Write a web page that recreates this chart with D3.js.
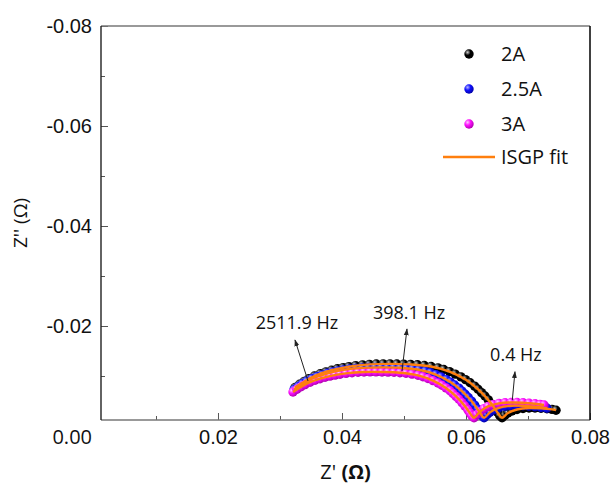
<!DOCTYPE html>
<html>
<head>
<meta charset="utf-8">
<script src="https://cdn.jsdelivr.net/npm/d3@7"></script>
<style>
  body { margin: 0; background: #fff; }
  svg { font-family: "Open Sans", "Noto Sans", sans-serif; }
</style>
</head>
<body>
<svg width="612" height="484"></svg>
<script>
// Nyquist data, Z' (ohm) and Z'' (ohm)
const s2A_re = [0.03242,0.03316,0.0339,0.03463,0.03555,0.03648,0.0374,0.03832,0.03924,0.04016,0.0411,0.04219,0.04331,0.04442,0.04552,0.04663,0.04774,0.04884,0.04995,0.05105,0.05216,0.05327,0.05437,0.05548,0.0564,0.05734,0.05826,0.05918,0.05992,0.06066,0.06139,0.06194,0.0625,0.06305,0.0636,0.06416,0.06471,0.06508,0.06545,0.06582,0.06629,0.06677,0.06742,0.06823,0.06919,0.07016,0.07113,0.0721,0.07306,0.07387,0.07452];
const s2A_im = [-0.0077,-0.00834,-0.00892,-0.00944,-0.01,-0.01046,-0.01082,-0.01116,-0.01144,-0.01168,-0.01188,-0.01208,-0.01222,-0.01232,-0.0124,-0.01242,-0.01242,-0.0124,-0.01238,-0.01232,-0.01224,-0.0121,-0.0119,-0.01162,-0.0113,-0.01088,-0.01038,-0.00982,-0.00928,-0.00866,-0.00798,-0.00736,-0.00668,-0.006,-0.00522,-0.00436,-0.00348,-0.00278,-0.00206,-0.00164,-0.00214,-0.0026,-0.003,-0.0033,-0.0035,-0.0036,-0.0036,-0.00354,-0.00344,-0.00332,-0.00316];

const s25A_re = [0.03226,0.03294,0.03361,0.03429,0.03515,0.03598,0.03684,0.03768,0.03853,0.03937,0.04023,0.04124,0.04224,0.04326,0.04427,0.04531,0.04632,0.04734,0.04835,0.04937,0.05039,0.0514,0.0524,0.05342,0.05427,0.05513,0.05597,0.05681,0.05748,0.05816,0.05885,0.05935,0.05987,0.06037,0.06089,0.06139,0.0619,0.06224,0.06258,0.06292,0.06339,0.06387,0.06452,0.06532,0.06629,0.06726,0.06823,0.06919,0.07016,0.07113,0.0721,0.07306];
const s25A_im = [-0.0073,-0.0079,-0.00846,-0.00894,-0.00946,-0.00988,-0.01022,-0.01054,-0.0108,-0.01102,-0.01122,-0.0114,-0.01152,-0.01162,-0.0117,-0.01172,-0.01172,-0.0117,-0.01168,-0.01164,-0.01154,-0.01142,-0.01124,-0.01098,-0.01066,-0.01028,-0.00982,-0.00928,-0.00878,-0.0082,-0.00758,-0.00698,-0.00634,-0.0057,-0.00498,-0.00418,-0.00336,-0.0027,-0.00204,-0.00164,-0.00224,-0.00276,-0.00324,-0.00364,-0.0039,-0.00404,-0.00408,-0.00404,-0.00396,-0.00384,-0.0037,-0.00354];

const s3A_re = [0.0321,0.03274,0.03339,0.03403,0.03484,0.03565,0.03645,0.03726,0.03806,0.03887,0.03968,0.04065,0.04161,0.04258,0.04355,0.04452,0.04548,0.04645,0.04742,0.04839,0.04935,0.05032,0.05129,0.05226,0.05306,0.05387,0.05468,0.05548,0.05613,0.05677,0.05742,0.0579,0.05839,0.05887,0.05935,0.05984,0.06032,0.06065,0.06097,0.06129,0.06177,0.06226,0.0629,0.06355,0.06435,0.06532,0.06629,0.06726,0.06823,0.06919,0.07016,0.07113,0.07194,0.07258];
const s3A_im = [-0.0068,-0.00734,-0.00784,-0.00828,-0.00876,-0.00914,-0.00946,-0.00974,-0.00998,-0.01018,-0.01036,-0.01052,-0.01064,-0.01074,-0.0108,-0.01082,-0.01082,-0.0108,-0.01078,-0.01074,-0.01066,-0.01054,-0.01038,-0.01014,-0.00986,-0.0095,-0.00908,-0.0086,-0.00814,-0.00762,-0.00704,-0.0065,-0.00592,-0.00534,-0.00468,-0.00396,-0.0032,-0.0026,-0.002,-0.00164,-0.0023,-0.00286,-0.00348,-0.00392,-0.00428,-0.00452,-0.00464,-0.0047,-0.0047,-0.00464,-0.00456,-0.00444,-0.00432,-0.0042];

// ISGP fit curves
const fit2A_re = [0.03242,0.03555,0.03832,0.0411,0.04442,0.04774,0.05105,0.05437,0.05734,0.05992,0.0625,0.06416,0.06545,0.06582,0.06677,0.06823,0.07016,0.0721,0.07387,0.07452];
const fit2A_im = [-0.0077,-0.01,-0.01116,-0.01188,-0.01232,-0.01242,-0.01232,-0.0119,-0.01088,-0.00928,-0.00668,-0.00436,-0.00206,-0.00164,-0.0026,-0.0033,-0.0036,-0.00354,-0.00332,-0.00316];
const fit25A_re = [0.03226,0.03515,0.03768,0.04023,0.04326,0.04632,0.04937,0.0524,0.05513,0.05748,0.05935,0.06089,0.06224,0.06292,0.06387,0.06532,0.06726,0.06919,0.07113,0.07306];
const fit25A_im = [-0.0073,-0.00946,-0.01054,-0.01122,-0.01162,-0.01172,-0.01164,-0.01124,-0.01028,-0.00878,-0.00698,-0.00498,-0.0027,-0.00164,-0.00276,-0.00364,-0.00404,-0.00404,-0.00384,-0.00354];
const fit3A_re = [0.0321,0.03484,0.03806,0.04065,0.04355,0.04645,0.04935,0.05226,0.05468,0.05677,0.05839,0.05984,0.06097,0.06129,0.06226,0.06355,0.06532,0.06726,0.06919,0.07113,0.07258];
const fit3A_im = [-0.0068,-0.00876,-0.00998,-0.01052,-0.0108,-0.0108,-0.01066,-0.01014,-0.00908,-0.00762,-0.00592,-0.00396,-0.002,-0.00164,-0.00286,-0.00392,-0.00452,-0.0047,-0.00464,-0.00444,-0.0042];

const seriesNames = ["2A", "2.5A", "3A"];
const seriesColors = [["#d0d0d0", "#000000", "#000000"], ["#b8b8ff", "#1010ff", "#0000a8"], ["#ffc8ff", "#ff10ff", "#b000b0"]];
const fitName = "ISGP fit";
const fitColor = "#ff7f0e";

const xTicks = [0.02, 0.04, 0.06, 0.08];
const xMinor = [0.01, 0.03, 0.05, 0.07];
const yTicks = [-0.02, -0.04, -0.06, -0.08];
const yMinor = [-0.01, -0.03, -0.05, -0.07];
const zeroLabel = "0.00";

// frequency labels: [text, arrow start, arrow tip, label position]
const annotations = [
  ["2511.9 Hz", [0.03452, -0.0090], [0.03242, -0.0172], [0.03274, -0.0194]],
  ["398.1 Hz", [0.04968, -0.0110], [0.05048, -0.0194], [0.05081, -0.0214]],
  ["0.4 Hz", [0.06747, -0.0052], [0.0679, -0.01086], [0.06806, -0.0130]]
];

const svg = d3.select("svg");
const margin = ({top: 26, right: 22, bottom: 64, left: 101});
const width = 612;
const height = 484;
const dotR = 4.7;

const x = d3.scaleLinear()
    .domain([0.00113, 0.08])
    .range([margin.left, width - margin.right]);
const y = d3.scaleLinear()
    .domain([-0.0012, -0.08])
    .range([height - margin.bottom, margin.top]);

const series = [
  d3.zip(s2A_re, s2A_im),
  d3.zip(s25A_re, s25A_im),
  d3.zip(s3A_re, s3A_im)
];
const fits = [
  d3.zip(fit2A_re, fit2A_im),
  d3.zip(fit25A_re, fit25A_im),
  d3.zip(fit3A_re, fit3A_im)
];

const fmt = d => d.toFixed(2);

// sphere-looking symbols
const defs = svg.append("defs");
seriesColors.forEach((c, i) => {
  const g = defs.append("radialGradient")
      .attr("id", "ball" + i)
      .attr("cx", "35%").attr("cy", "32%").attr("r", "70%");
  g.append("stop").attr("offset", "0%").attr("stop-color", c[0]);
  g.append("stop").attr("offset", "45%").attr("stop-color", c[1]);
  g.append("stop").attr("offset", "100%").attr("stop-color", c[2]);
});
defs.append("marker")
    .attr("id", "arrow")
    .attr("viewBox", "0 0 10 10")
    .attr("refX", 9).attr("refY", 5)
    .attr("markerWidth", 7).attr("markerHeight", 7)
    .attr("orient", "auto")
  .append("path")
    .attr("d", "M0,1.5L10,5L0,8.5Z")
    .attr("fill", "#222");

// minor ticks
svg.append("g")
    .attr("transform", `translate(0,${height - margin.bottom})`)
    .call(d3.axisBottom(x).tickValues(xMinor).tickSize(-4).tickFormat(""))
    .call(g => g.select(".domain").remove())
    .call(g => g.selectAll("line").attr("stroke", "#555"));
svg.append("g")
    .attr("transform", `translate(${margin.left},0)`)
    .call(d3.axisLeft(y).tickValues(yMinor).tickSize(-4).tickFormat(""))
    .call(g => g.select(".domain").remove())
    .call(g => g.selectAll("line").attr("stroke", "#555"));

// major ticks + labels
svg.append("g")
    .attr("transform", `translate(0,${height - margin.bottom})`)
    .call(d3.axisBottom(x).tickValues(xTicks).tickSize(-7).tickPadding(10).tickFormat(fmt))
    .call(g => g.select(".domain").remove())
    .call(g => g.selectAll("line").attr("stroke", "#555"))
    .call(g => g.selectAll("text").attr("font-size", 20).attr("fill", "#111").attr("font-family", null));
svg.append("g")
    .attr("transform", `translate(${margin.left},0)`)
    .call(d3.axisLeft(y).tickValues(yTicks).tickSize(-7).tickPadding(9).tickFormat(fmt))
    .call(g => g.select(".domain").remove())
    .call(g => g.selectAll("line").attr("stroke", "#555"))
    .call(g => g.selectAll("text").attr("font-size", 20).attr("fill", "#111").attr("font-family", null));

// shared corner label
svg.append("text")
    .attr("x", margin.left - 9)
    .attr("y", height - margin.bottom + 24)
    .attr("text-anchor", "end")
    .attr("font-size", 20)
    .attr("fill", "#111")
    .text(zeroLabel);

// frame
const fx0 = margin.left, fx1 = width - margin.right, fy0 = margin.top, fy1 = height - margin.bottom;
svg.append("line").attr("x1", fx0).attr("x2", fx1).attr("y1", fy0).attr("y2", fy0)
    .attr("stroke", "#777").attr("stroke-width", 1.6);
svg.append("line").attr("x1", fx0).attr("x2", fx1).attr("y1", fy1).attr("y2", fy1)
    .attr("stroke", "#777").attr("stroke-width", 1.6);
svg.append("line").attr("x1", fx0).attr("x2", fx0).attr("y1", fy0).attr("y2", fy1)
    .attr("stroke", "#222").attr("stroke-width", 1.4);
svg.append("line").attr("x1", fx1).attr("x2", fx1).attr("y1", fy0).attr("y2", fy1)
    .attr("stroke", "#111").attr("stroke-width", 1.6);

// data points
svg.append("g")
  .selectAll("g")
  .data(series)
  .join("g")
    .attr("fill", (d, i) => `url(#ball${i})`)
  .selectAll("circle")
  .data(d => d)
  .join("circle")
    .attr("cx", d => x(d[0]))
    .attr("cy", d => y(d[1]))
    .attr("r", dotR);

// fits
const line = d3.line()
    .x(d => x(d[0]))
    .y(d => y(d[1]))
    .curve(d3.curveCatmullRom.alpha(0.5));
svg.append("g")
  .selectAll("path")
  .data(fits)
  .join("path")
    .attr("d", line)
    .attr("fill", "none")
    .attr("stroke", fitColor)
    .attr("stroke-width", 2.4)
    .attr("stroke-linejoin", "round");

// frequency annotations
const ann = svg.append("g");
annotations.forEach(([label, from, to, pos]) => {
  ann.append("line")
      .attr("x1", x(from[0])).attr("y1", y(from[1]))
      .attr("x2", x(to[0])).attr("y2", y(to[1]))
      .attr("stroke", "#222")
      .attr("stroke-width", 1)
      .attr("marker-end", "url(#arrow)");
  ann.append("text")
      .attr("x", x(pos[0]))
      .attr("y", y(pos[1]))
      .attr("text-anchor", "middle")
      .attr("font-size", 18)
      .attr("fill", "#111")
      .text(label);
});

// legend
const legend = svg.append("g").attr("transform", "translate(469,54)");
seriesNames.forEach((name, i) => {
  legend.append("circle")
      .attr("cx", 0).attr("cy", i * 35)
      .attr("r", dotR)
      .attr("fill", `url(#ball${i})`);
  legend.append("text")
      .attr("x", 32).attr("y", i * 35 + 7)
      .attr("font-size", 20)
      .attr("fill", "#111")
      .text(name);
});
legend.append("line")
    .attr("x1", -26).attr("x2", 26)
    .attr("y1", 103).attr("y2", 103)
    .attr("stroke", fitColor)
    .attr("stroke-width", 2.6);
legend.append("text")
    .attr("x", 32).attr("y", 110)
    .attr("font-size", 20)
    .attr("fill", "#111")
    .text(fitName);

// axis titles
svg.append("text")
    .attr("x", (fx0 + fx1) / 2)
    .attr("y", 479)
    .attr("text-anchor", "middle")
    .attr("font-size", 20)
    .attr("fill", "#111")
    .text("Z' ")
  .append("tspan")
    .attr("font-weight", "bold")
    .text("(Ω)");
svg.append("text")
    .attr("transform", `translate(27,${(fy0 + fy1) / 2}) rotate(-90)`)
    .attr("text-anchor", "middle")
    .attr("font-size", 19)
    .attr("fill", "#111")
    .text("Z'' (Ω)");
</script>
</body>
</html>
